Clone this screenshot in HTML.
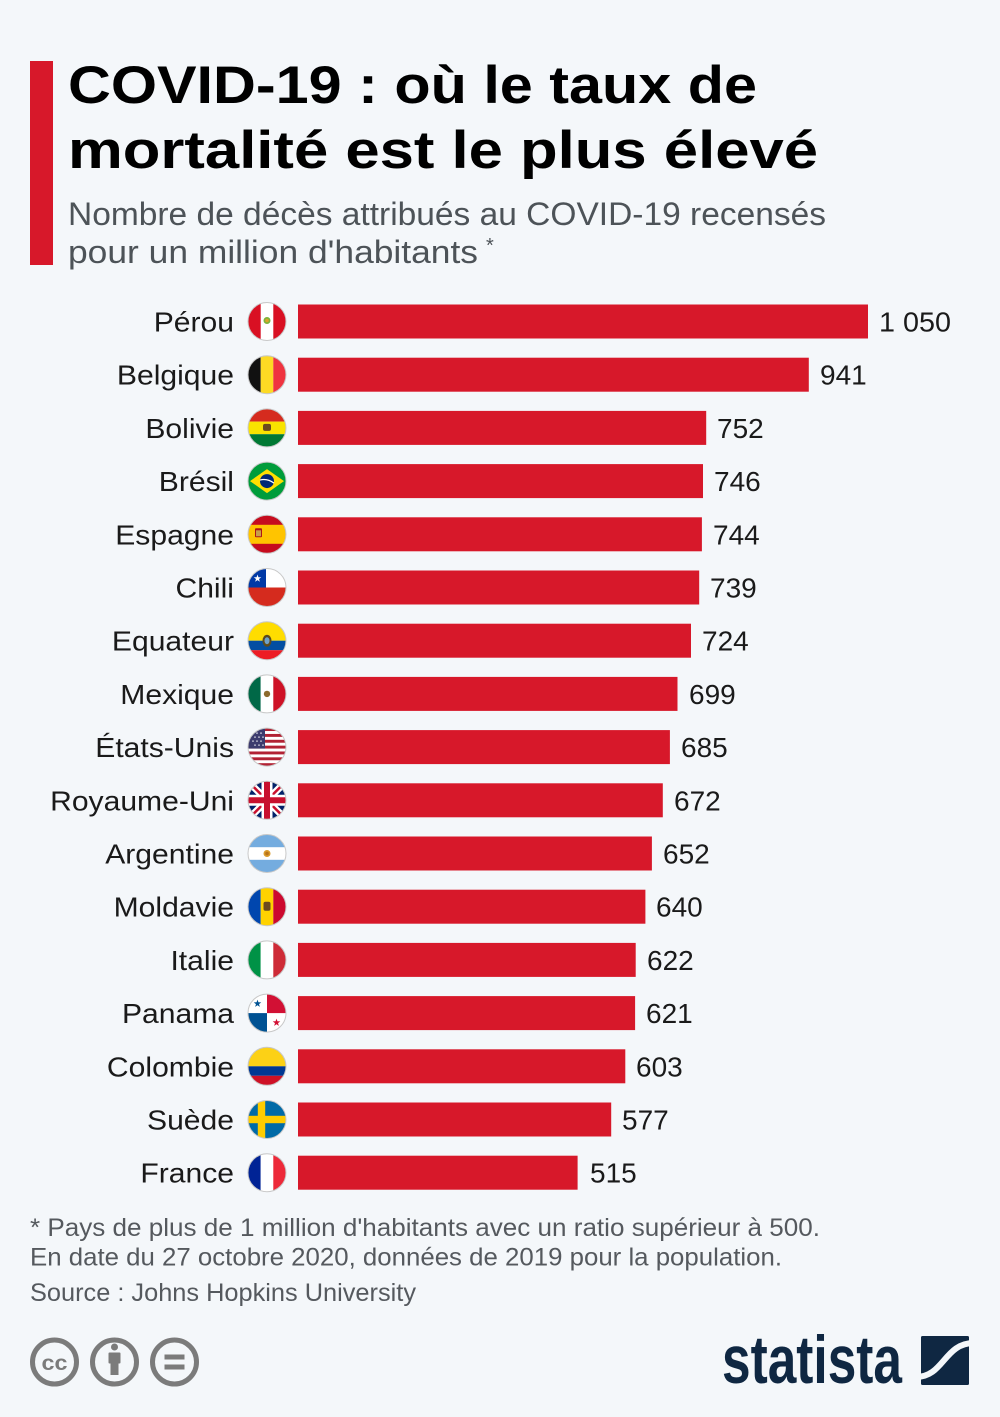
<!DOCTYPE html>
<html><head><meta charset="utf-8">
<style>
html,body{margin:0;padding:0;background:#f4f7fa;}
svg{display:block;}
text{font-family:"Liberation Sans",sans-serif;}
</style></head>
<body>
<svg width="1000" height="1417" viewBox="0 0 1000 1417" xmlns="http://www.w3.org/2000/svg">
<defs>
<clipPath id="c"><circle cx="0" cy="0" r="19"/></clipPath>
<polygon id="star" points="0,-4 0.94,-1.29 3.8,-1.24 1.52,0.49 2.35,3.24 0,1.6 -2.35,3.24 -1.52,0.49 -3.8,-1.24 -0.94,-1.29"/>
</defs>
<rect width="1000" height="1417" fill="#f4f7fa"/>
<rect x="30" y="61" width="23" height="204" fill="#d7182a"/>
<text x="68" y="103" font-size="53" font-weight="bold" fill="#000" textLength="689" lengthAdjust="spacingAndGlyphs">COVID-19 : où le taux de</text>
<text x="68" y="168" font-size="53" font-weight="bold" fill="#000" textLength="750" lengthAdjust="spacingAndGlyphs">mortalité est le plus élevé</text>
<text x="68" y="225" font-size="32" fill="#4d5358" textLength="758" lengthAdjust="spacingAndGlyphs">Nombre de décès attribués au COVID-19 recensés</text>
<text x="68" y="263" font-size="32" fill="#4d5358" textLength="410" lengthAdjust="spacingAndGlyphs">pour un million d'habitants</text>
<text x="486" y="252" font-size="20" fill="#4d5358">*</text>

<!-- labels -->
<g font-size="28" fill="#1a1a1a" text-anchor="end" transform="translate(234,0) scale(1.075,1) translate(-234,0)">
<text x="234" y="331.5">Pérou</text>
<text x="234" y="384.7">Belgique</text>
<text x="234" y="437.9">Bolivie</text>
<text x="234" y="491.1">Brésil</text>
<text x="234" y="544.3">Espagne</text>
<text x="234" y="597.5">Chili</text>
<text x="234" y="650.7">Equateur</text>
<text x="234" y="703.9">Mexique</text>
<text x="234" y="757.1">États-Unis</text>
<text x="234" y="810.3">Royaume-Uni</text>
<text x="234" y="863.5">Argentine</text>
<text x="234" y="916.7">Moldavie</text>
<text x="234" y="969.9">Italie</text>
<text x="234" y="1023.1">Panama</text>
<text x="234" y="1076.3">Colombie</text>
<text x="234" y="1129.5">Suède</text>
<text x="234" y="1182.7">France</text>
</g>

<!-- bars -->
<g fill="#d7182a">
<rect x="298" y="304.5" width="570" height="34"/>
<rect x="298" y="357.7" width="510.8" height="34"/>
<rect x="298" y="410.9" width="408.2" height="34"/>
<rect x="298" y="464.1" width="405" height="34"/>
<rect x="298" y="517.3" width="403.9" height="34"/>
<rect x="298" y="570.5" width="401.2" height="34"/>
<rect x="298" y="623.7" width="393" height="34"/>
<rect x="298" y="676.9" width="379.5" height="34"/>
<rect x="298" y="730.1" width="371.9" height="34"/>
<rect x="298" y="783.3" width="364.8" height="34"/>
<rect x="298" y="836.5" width="353.9" height="34"/>
<rect x="298" y="889.7" width="347.4" height="34"/>
<rect x="298" y="942.9" width="337.7" height="34"/>
<rect x="298" y="996.1" width="337.1" height="34"/>
<rect x="298" y="1049.3" width="327.3" height="34"/>
<rect x="298" y="1102.5" width="313.2" height="34"/>
<rect x="298" y="1155.7" width="279.6" height="34"/>
</g>

<!-- values -->
<g font-size="28" fill="#1a1a1a">
<text x="879" y="331.5" textLength="72" lengthAdjust="spacingAndGlyphs">1 050</text>
<text x="820" y="384.7">941</text>
<text x="717" y="437.9">752</text>
<text x="714" y="491.1">746</text>
<text x="713" y="544.3">744</text>
<text x="710" y="597.5">739</text>
<text x="702" y="650.7">724</text>
<text x="689" y="703.9">699</text>
<text x="681" y="757.1">685</text>
<text x="674" y="810.3">672</text>
<text x="663" y="863.5">652</text>
<text x="656" y="916.7">640</text>
<text x="647" y="969.9">622</text>
<text x="646" y="1023.1">621</text>
<text x="636" y="1076.3">603</text>
<text x="622" y="1129.5">577</text>
<text x="590" y="1182.7">515</text>
</g>

<!-- flags -->
<g transform="translate(267,321.5)"><g clip-path="url(#c)">
<rect x="-19" y="-19" width="38" height="38" fill="#d91023"/>
<rect x="-6.3" y="-19" width="12.6" height="38" fill="#fff"/>
<circle cx="0" cy="-1" r="3.5" fill="#7db33a"/><circle cx="0" cy="-1" r="1.8" fill="#d9a62a"/>
</g><circle r="19" fill="none" stroke="#c8c8c8" stroke-width="1"/></g>
<g transform="translate(267,374.7)"><g clip-path="url(#c)">
<rect x="-19" y="-19" width="12.7" height="38" fill="#111"/>
<rect x="-6.3" y="-19" width="12.6" height="38" fill="#fdda24"/>
<rect x="6.3" y="-19" width="12.7" height="38" fill="#ef3340"/>
</g><circle r="19" fill="none" stroke="#c8c8c8" stroke-width="1"/></g>
<g transform="translate(267,427.9)"><g clip-path="url(#c)">
<rect x="-19" y="-19" width="38" height="12.7" fill="#d52b1e"/>
<rect x="-19" y="-6.3" width="38" height="12.6" fill="#f9e300"/>
<rect x="-19" y="6.3" width="38" height="12.7" fill="#007934"/>
<rect x="-4" y="-4" width="8" height="7" rx="2" fill="#6b4a1f"/>
</g><circle r="19" fill="none" stroke="#c8c8c8" stroke-width="1"/></g>
<g transform="translate(267,481.1)"><g clip-path="url(#c)">
<rect x="-19" y="-19" width="38" height="38" fill="#009c3b"/>
<polygon points="-17,0 0,-12 17,0 0,12" fill="#fedf00"/>
<circle r="7" fill="#002776"/>
<path d="M-7,-1 Q0,-3 7,2" stroke="#fff" stroke-width="1.2" fill="none"/>
</g><circle r="19" fill="none" stroke="#c8c8c8" stroke-width="1"/></g>
<g transform="translate(267,534.3)"><g clip-path="url(#c)">
<rect x="-19" y="-19" width="38" height="38" fill="#c60b1e"/>
<rect x="-19" y="-9.5" width="38" height="19" fill="#ffc400"/>
<rect x="-12" y="-6" width="7" height="9" rx="1" fill="#ad1519"/>
<rect x="-11" y="-4" width="5" height="6" fill="#c8a04a"/>
</g><circle r="19" fill="none" stroke="#c8c8c8" stroke-width="1"/></g>
<g transform="translate(267,587.5)"><g clip-path="url(#c)">
<rect x="-19" y="-19" width="38" height="19" fill="#fff"/>
<rect x="-19" y="0" width="38" height="19" fill="#d52b1e"/>
<rect x="-19" y="-19" width="18" height="19" fill="#0039a6"/>
<use href="#star" x="-9.5" y="-9" fill="#fff"/>
</g><circle r="19" fill="none" stroke="#c8c8c8" stroke-width="1"/></g>
<g transform="translate(267,640.7)"><g clip-path="url(#c)">
<rect x="-19" y="-19" width="38" height="19" fill="#ffdd00"/>
<rect x="-19" y="0" width="38" height="9.5" fill="#034ea2"/>
<rect x="-19" y="9.5" width="38" height="9.5" fill="#ed1c24"/>
<ellipse cx="0" cy="0" rx="4.5" ry="6" fill="#5b4a1e"/>
<ellipse cx="0" cy="0" rx="2.5" ry="3.5" fill="#6fa1c9"/>
</g><circle r="19" fill="none" stroke="#c8c8c8" stroke-width="1"/></g>
<g transform="translate(267,693.9)"><g clip-path="url(#c)">
<rect x="-19" y="-19" width="12.7" height="38" fill="#006847"/>
<rect x="-6.3" y="-19" width="12.6" height="38" fill="#fff"/>
<rect x="6.3" y="-19" width="12.7" height="38" fill="#ce1126"/>
<circle r="3.2" fill="#8c6a2c"/>
</g><circle r="19" fill="none" stroke="#c8c8c8" stroke-width="1"/></g>
<g transform="translate(267,747.1)"><g clip-path="url(#c)">
<rect x="-19" y="-19" width="38" height="38" fill="#fff"/>
<g fill="#b22234">
<rect x="-19" y="-19" width="38" height="2.92"/>
<rect x="-19" y="-13.15" width="38" height="2.92"/>
<rect x="-19" y="-7.3" width="38" height="2.92"/>
<rect x="-19" y="-1.46" width="38" height="2.92"/>
<rect x="-19" y="4.38" width="38" height="2.92"/>
<rect x="-19" y="10.23" width="38" height="2.92"/>
<rect x="-19" y="16.08" width="38" height="2.92"/>
</g>
<rect x="-19" y="-19" width="17" height="20.46" fill="#3c3b6e"/>
<g fill="#fff" opacity="0.8">
<circle cx="-14" cy="-14" r="0.8"/><circle cx="-10" cy="-14" r="0.8"/><circle cx="-6" cy="-14" r="0.8"/>
<circle cx="-12" cy="-10" r="0.8"/><circle cx="-8" cy="-10" r="0.8"/><circle cx="-4" cy="-10" r="0.8"/>
<circle cx="-14" cy="-6" r="0.8"/><circle cx="-10" cy="-6" r="0.8"/><circle cx="-6" cy="-6" r="0.8"/>
<circle cx="-12" cy="-2" r="0.8"/><circle cx="-8" cy="-2" r="0.8"/><circle cx="-4" cy="-2" r="0.8"/>
</g>
</g><circle r="19" fill="none" stroke="#c8c8c8" stroke-width="1"/></g>
<g transform="translate(267,800.3)"><g clip-path="url(#c)">
<rect x="-19" y="-19" width="38" height="38" fill="#012169"/>
<path d="M-19,-19 L19,19 M19,-19 L-19,19" stroke="#fff" stroke-width="7"/>
<path d="M-19,-19 L19,19 M19,-19 L-19,19" stroke="#c8102e" stroke-width="2.5"/>
<path d="M0,-19 V19 M-19,0 H19" stroke="#fff" stroke-width="11"/>
<path d="M0,-19 V19 M-19,0 H19" stroke="#c8102e" stroke-width="6"/>
</g><circle r="19" fill="none" stroke="#c8c8c8" stroke-width="1"/></g>
<g transform="translate(267,853.5)"><g clip-path="url(#c)">
<rect x="-19" y="-19" width="38" height="38" fill="#74acdf"/>
<rect x="-19" y="-6.3" width="38" height="12.6" fill="#fff"/>
<circle r="3.5" fill="#d99a2b"/><circle r="1.8" fill="#b8731a"/>
</g><circle r="19" fill="none" stroke="#c8c8c8" stroke-width="1"/></g>
<g transform="translate(267,906.7)"><g clip-path="url(#c)">
<rect x="-19" y="-19" width="12.7" height="38" fill="#0046ae"/>
<rect x="-6.3" y="-19" width="12.6" height="38" fill="#ffd200"/>
<rect x="6.3" y="-19" width="12.7" height="38" fill="#cc092f"/>
<rect x="-3.5" y="-5" width="7" height="9" rx="2" fill="#6b4a1f"/>
</g><circle r="19" fill="none" stroke="#c8c8c8" stroke-width="1"/></g>
<g transform="translate(267,959.9)"><g clip-path="url(#c)">
<rect x="-19" y="-19" width="12.7" height="38" fill="#009246"/>
<rect x="-6.3" y="-19" width="12.6" height="38" fill="#fff"/>
<rect x="6.3" y="-19" width="12.7" height="38" fill="#ce2b37"/>
</g><circle r="19" fill="none" stroke="#c8c8c8" stroke-width="1"/></g>
<g transform="translate(267,1013.1)"><g clip-path="url(#c)">
<rect x="-19" y="-19" width="38" height="38" fill="#fff"/>
<rect x="0" y="-19" width="19" height="19" fill="#d21034"/>
<rect x="-19" y="0" width="19" height="19" fill="#005293"/>
<use href="#star" x="-9.5" y="-9.5" fill="#005293"/>
<use href="#star" x="9.5" y="9.5" fill="#d21034"/>
</g><circle r="19" fill="none" stroke="#c8c8c8" stroke-width="1"/></g>
<g transform="translate(267,1066.3)"><g clip-path="url(#c)">
<rect x="-19" y="-19" width="38" height="19" fill="#fcd116"/>
<rect x="-19" y="0" width="38" height="9.5" fill="#003893"/>
<rect x="-19" y="9.5" width="38" height="9.5" fill="#ce1126"/>
</g><circle r="19" fill="none" stroke="#c8c8c8" stroke-width="1"/></g>
<g transform="translate(267,1119.5)"><g clip-path="url(#c)">
<rect x="-19" y="-19" width="38" height="38" fill="#006aa7"/>
<rect x="-9.2" y="-19" width="7.4" height="38" fill="#fecc00"/>
<rect x="-19" y="-3.7" width="38" height="7.4" fill="#fecc00"/>
</g><circle r="19" fill="none" stroke="#c8c8c8" stroke-width="1"/></g>
<g transform="translate(267,1172.7)"><g clip-path="url(#c)">
<rect x="-19" y="-19" width="12.7" height="38" fill="#002395"/>
<rect x="-6.3" y="-19" width="12.6" height="38" fill="#fff"/>
<rect x="6.3" y="-19" width="12.7" height="38" fill="#ed2939"/>
</g><circle r="19" fill="none" stroke="#c8c8c8" stroke-width="1"/></g>

<!-- footer -->
<g font-size="25" fill="#55595e">
<text x="30" y="1236" textLength="790" lengthAdjust="spacingAndGlyphs">* Pays de plus de 1 million d'habitants avec un ratio supérieur à 500.</text>
<text x="30" y="1265.5" textLength="752" lengthAdjust="spacingAndGlyphs">En date du 27 octobre 2020, données de 2019 pour la population.</text>
<text x="30" y="1301" textLength="386" lengthAdjust="spacingAndGlyphs">Source : Johns Hopkins University</text>
</g>

<!-- CC icons -->
<g stroke="#7b7b7b" stroke-width="5" fill="none">
<circle cx="54.5" cy="1362" r="22"/>
<circle cx="114.5" cy="1362" r="22"/>
<circle cx="174.5" cy="1362" r="22"/>
</g>
<text x="54.5" y="1370" font-size="21" font-weight="bold" fill="#7b7b7b" text-anchor="middle" textLength="26" lengthAdjust="spacingAndGlyphs">cc</text>
<g fill="#7b7b7b">
<circle cx="114.5" cy="1347" r="3.5"/>
<rect x="108.5" y="1352.5" width="12" height="11" rx="1"/>
<rect x="110.5" y="1362" width="8" height="13"/>
<rect x="164.5" y="1354.5" width="20" height="5"/>
<rect x="164.5" y="1364.5" width="20" height="5"/>
</g>

<!-- statista logo -->
<text x="722" y="1383" font-size="68" font-weight="bold" fill="#0f2742" textLength="180" lengthAdjust="spacingAndGlyphs">statista</text>
<rect x="921" y="1336" width="48" height="49" rx="1.5" fill="#0f2742"/>
<path d="M916,1377 C944,1377 944,1343 974,1343" stroke="#f4f7fa" stroke-width="6" fill="none"/>
</svg>
</body></html>
